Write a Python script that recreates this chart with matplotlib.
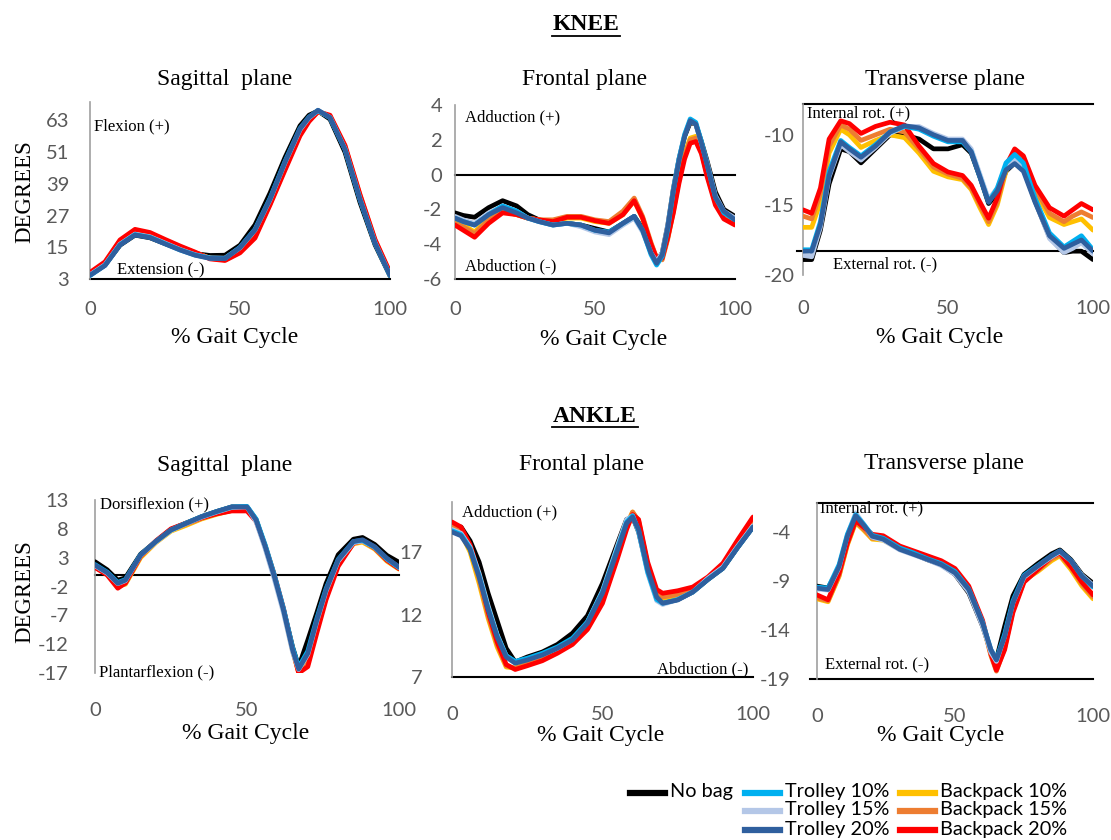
import matplotlib
matplotlib.use("Agg")
import matplotlib.pyplot as plt
from matplotlib.lines import Line2D

plt.rcParams["axes.unicode_minus"] = False

# ---------------- data ----------------
labels = ["No bag", "Trolley 10%", "Trolley 15%", "Trolley 20%",
          "Backpack 10%", "Backpack 15%", "Backpack 20%"]
colors = ["#000000", "#00B0F0", "#B4C7E7", "#2F5F9E",
          "#FFC000", "#ED7D31", "#FF0000"]

# knee, sagittal plane
ks_x = [0, 5, 10, 15, 20, 25, 30, 35, 40, 45, 50, 55, 60, 65, 70, 73, 76, 80, 85, 90, 95, 100]
ks_nobag = [4.5, 8.3, 15.8, 19.6, 18.6, 16.4, 14.3, 12.6, 11.9, 12.0, 15.8, 23.5, 35.5, 49.0, 61.0, 65.0, 66.6, 63.5, 51.0, 32.0, 16.0, 4.2]
ks_t10 = [4.3, 8.2, 16.0, 19.8, 18.8, 16.4, 14.0, 12.1, 10.9, 10.8, 15.0, 21.8, 33.5, 47.5, 60.0, 64.3, 66.8, 64.0, 52.0, 33.0, 16.5, 4.3]
ks_t15 = [4.6, 8.4, 16.2, 20.0, 19.0, 16.6, 14.2, 12.2, 11.0, 10.9, 14.8, 21.5, 33.0, 47.0, 59.5, 64.0, 66.7, 64.2, 52.3, 33.4, 16.8, 4.5]
ks_t20 = [4.4, 8.1, 15.9, 19.7, 18.7, 16.3, 14.0, 12.0, 10.8, 10.7, 14.9, 21.6, 33.2, 47.2, 59.8, 64.2, 66.9, 64.1, 52.1, 33.2, 16.6, 4.4]
ks_b10 = [5.0, 9.0, 17.0, 21.0, 19.9, 17.4, 15.0, 12.9, 10.9, 10.3, 13.6, 19.6, 31.8, 45.2, 58.2, 63.2, 66.4, 64.5, 53.0, 34.4, 17.4, 4.9]
ks_b15 = [5.2, 9.2, 17.4, 21.4, 20.2, 17.7, 15.2, 13.0, 10.8, 10.2, 13.3, 19.2, 31.4, 44.8, 57.8, 63.0, 66.4, 64.7, 53.2, 34.7, 17.7, 5.2]
ks_b20 = [5.5, 9.5, 17.8, 21.8, 20.6, 18.0, 15.5, 13.2, 10.6, 10.0, 12.9, 18.5, 31.0, 44.2, 57.2, 62.6, 66.3, 65.0, 53.6, 35.0, 18.0, 5.5]

# knee, frontal plane
kf_x = [0, 3, 7, 12, 17, 22, 26, 30, 35, 40, 45, 50, 55, 60, 64, 67, 70, 72, 74, 76, 78, 80, 82, 84, 86, 88, 90, 93, 96, 100]
kf_nobag = [-2.2, -2.35, -2.45, -1.9, -1.5, -1.8, -2.3, -2.6, -2.8, -2.8, -2.9, -3.1, -3.3, -2.8, -2.4, -3.1, -4.4, -5.0, -4.5, -2.9, -0.8, 0.9, 2.2, 3.0, 2.9, 1.9, 0.8, -1.0, -2.0, -2.4]
kf_t10 = [-2.5, -2.7, -2.9, -2.3, -1.8, -2.1, -2.5, -2.7, -2.9, -2.8, -2.9, -3.2, -3.3, -2.8, -2.4, -3.2, -4.6, -5.2, -4.7, -3.1, -0.9, 0.9, 2.3, 3.2, 3.0, 1.9, 0.6, -1.3, -2.2, -2.6]
kf_t15 = [-2.4, -2.6, -2.8, -2.2, -1.8, -2.1, -2.5, -2.7, -2.9, -2.8, -3.0, -3.3, -3.45, -2.9, -2.5, -3.3, -4.5, -5.0, -4.5, -2.9, -0.8, 0.9, 2.3, 3.1, 2.9, 1.8, 0.7, -1.2, -2.1, -2.5]
kf_t20 = [-2.5, -2.7, -2.9, -2.3, -1.9, -2.2, -2.5, -2.7, -2.9, -2.8, -2.9, -3.2, -3.35, -2.8, -2.4, -3.2, -4.5, -5.1, -4.6, -3.0, -0.9, 0.8, 2.2, 3.1, 2.9, 1.8, 0.6, -1.3, -2.1, -2.6]
kf_b10 = [-2.7, -2.9, -3.3, -2.5, -2.1, -2.3, -2.5, -2.6, -2.7, -2.5, -2.5, -2.7, -2.8, -2.3, -1.5, -2.5, -4.0, -4.8, -4.8, -3.6, -2.0, -0.2, 1.2, 2.1, 2.2, 1.4, 0.1, -1.5, -2.4, -2.7]
kf_b15 = [-2.8, -3.0, -3.4, -2.6, -2.1, -2.3, -2.5, -2.6, -2.6, -2.4, -2.4, -2.6, -2.7, -2.1, -1.35, -2.4, -3.9, -4.8, -4.9, -3.7, -2.1, -0.3, 1.1, 2.0, 2.1, 1.3, 0.0, -1.6, -2.4, -2.8]
kf_b20 = [-2.9, -3.2, -3.6, -2.8, -2.2, -2.3, -2.5, -2.6, -2.7, -2.45, -2.45, -2.65, -2.8, -2.3, -1.5, -2.5, -4.0, -4.8, -4.8, -3.6, -2.2, -0.5, 0.9, 1.8, 1.9, 1.2, -0.1, -1.75, -2.55, -2.9]

# knee, transverse plane
kt_x = [0, 3, 6, 9, 13, 16, 20, 25, 30, 35, 40, 45, 50, 55, 58, 61, 64, 67, 70, 73, 76, 80, 85, 90, 93, 96, 100]
kt_nobag = [-18.9, -18.9, -16.8, -13.5, -11.0, -11.2, -12.0, -11.0, -10.0, -10.0, -10.3, -11.0, -11.0, -10.7, -11.3, -13.0, -14.9, -14.2, -12.6, -12.0, -12.4, -14.7, -17.3, -18.4, -18.3, -18.3, -18.9]
kt_t10 = [-18.2, -18.2, -16.2, -12.6, -10.4, -10.9, -11.5, -10.7, -9.8, -9.4, -9.6, -10.1, -10.5, -10.5, -11.2, -13.0, -14.8, -13.8, -12.0, -11.4, -12.0, -14.5, -17.0, -18.0, -17.6, -17.2, -18.2]
kt_t15 = [-18.6, -18.7, -16.6, -13.0, -10.7, -11.2, -11.8, -10.9, -9.9, -9.4, -9.4, -9.9, -10.3, -10.3, -11.0, -12.8, -14.6, -13.8, -12.2, -11.7, -12.3, -14.7, -17.4, -18.4, -18.1, -17.7, -18.5]
kt_t20 = [-18.3, -18.3, -16.4, -12.9, -10.5, -11.0, -11.6, -10.8, -9.8, -9.35, -9.5, -10.0, -10.4, -10.4, -11.2, -13.0, -14.8, -14.0, -12.5, -12.05, -12.6, -14.8, -17.2, -18.1, -17.8, -17.5, -18.3]
kt_b10 = [-16.6, -16.6, -14.8, -11.3, -9.6, -10.0, -10.9, -10.4, -10.0, -10.2, -11.3, -12.6, -13.0, -13.2, -13.9, -15.2, -16.4, -15.0, -12.6, -11.5, -12.0, -14.0, -15.9, -16.4, -16.2, -16.0, -16.8]
kt_b15 = [-15.8, -16.0, -14.2, -10.8, -9.3, -9.6, -10.4, -10.0, -9.6, -9.8, -11.0, -12.3, -12.8, -13.1, -13.8, -15.0, -16.2, -14.8, -12.4, -11.2, -11.7, -13.8, -15.6, -16.2, -15.8, -15.5, -15.9]
kt_b20 = [-15.35, -15.6, -13.8, -10.3, -9.0, -9.2, -9.9, -9.4, -9.1, -9.3, -10.8, -12.05, -12.65, -12.9, -13.6, -14.8, -15.95, -14.5, -12.2, -11.0, -11.5, -13.6, -15.2, -15.8, -15.35, -14.9, -15.35]

# ankle, sagittal plane
as_x = [0, 4, 7.5, 10, 15, 20, 25, 30, 35, 40, 45, 50, 53, 56, 59, 62, 65, 67, 70, 73, 76, 80, 85, 88, 92, 96, 100]
as_nobag = [2.3, 0.9, -0.9, -0.5, 3.6, 5.8, 7.9, 9.0, 10.1, 11.0, 11.8, 11.8, 9.6, 4.8, -0.4, -6.0, -12.5, -15.9, -11.3, -6.5, -1.5, 3.5, 6.2, 6.5, 5.3, 3.4, 2.2]
as_t10 = [1.8, 0.5, -1.3, -0.8, 3.5, 5.8, 7.8, 9.0, 10.1, 11.0, 11.8, 11.9, 9.7, 5.2, 0.0, -5.8, -12.6, -16.0, -13.2, -7.5, -2.4, 2.7, 5.8, 6.0, 4.8, 2.8, 1.3]
as_t15 = [1.6, 0.3, -1.5, -1.0, 3.4, 5.7, 7.7, 8.9, 10.0, 10.9, 11.7, 11.8, 9.2, 4.5, -0.8, -6.6, -13.4, -16.4, -13.8, -8.0, -2.8, 2.4, 5.6, 5.9, 4.8, 2.8, 1.3]
as_t20 = [1.7, 0.4, -1.45, -0.9, 3.46, 5.8, 7.8, 8.95, 10.1, 11.0, 11.8, 11.8, 9.5, 4.9, -0.3, -6.1, -13.0, -16.3, -13.6, -7.8, -2.6, 2.6, 5.8, 6.1, 4.9, 2.9, 1.4]
as_b10 = [1.5, 0.2, -1.9, -1.6, 3.0, 5.6, 7.6, 8.6, 9.7, 10.5, 11.2, 11.4, 9.5, 5.0, -0.2, -6.2, -13.2, -16.9, -15.0, -9.2, -3.6, 2.0, 5.4, 5.7, 4.5, 2.4, 1.0]
as_b15 = [1.4, 0.1, -2.1, -1.5, 3.2, 5.7, 7.8, 8.8, 9.8, 10.6, 11.2, 11.3, 9.4, 5.0, -0.1, -6.0, -13.0, -16.9, -15.4, -9.5, -3.9, 1.8, 5.5, 5.9, 4.6, 2.5, 1.1]
as_b20 = [1.3, 0.0, -2.3, -1.4, 3.3, 5.9, 8.0, 9.0, 9.9, 10.6, 11.1, 11.1, 9.3, 5.0, 0.0, -5.8, -12.8, -17.0, -15.9, -10.0, -4.3, 1.5, 5.5, 6.0, 4.7, 2.6, 1.1]

# ankle, frontal plane
af_x = [0, 3, 6, 9, 12, 15, 18, 21, 25, 30, 35, 40, 45, 50, 55, 58, 60, 62, 65, 68, 70, 75, 80, 85, 90, 95, 100]
af_nobag = [18.9, 19.0, 17.9, 16.2, 13.7, 11.5, 9.3, 8.2, 8.6, 9.0, 9.6, 10.5, 11.9, 14.5, 17.7, 19.6, 19.8, 18.6, 15.5, 13.3, 12.9, 13.2, 13.8, 14.8, 15.7, 17.4, 19.0]
af_t10 = [18.7, 18.4, 17.3, 15.1, 12.5, 10.3, 8.7, 8.25, 8.5, 8.9, 9.4, 10.1, 11.4, 13.8, 17.3, 19.4, 19.9, 18.7, 15.4, 13.2, 12.9, 13.2, 13.8, 14.8, 15.7, 17.4, 19.0]
af_t15 = [18.8, 18.5, 17.4, 15.3, 12.7, 10.4, 8.7, 8.2, 8.4, 8.8, 9.3, 10.0, 11.4, 13.9, 17.5, 19.6, 19.9, 18.6, 15.3, 13.1, 12.8, 13.2, 13.8, 14.9, 15.8, 17.5, 19.1]
af_t20 = [18.6, 18.3, 17.2, 15.0, 12.4, 10.2, 8.6, 8.1, 8.36, 8.76, 9.3, 9.96, 11.3, 13.7, 17.16, 19.3, 19.8, 18.8, 15.6, 13.4, 12.9, 13.16, 13.8, 14.8, 15.7, 17.4, 19.0]
af_b10 = [18.8, 18.5, 17.0, 14.5, 11.7, 9.4, 7.8, 7.7, 8.1, 8.5, 9.1, 9.8, 11.0, 13.2, 16.8, 19.2, 20.2, 19.4, 15.9, 13.5, 13.3, 13.5, 13.9, 14.9, 15.9, 17.7, 19.4]
af_b15 = [19.0, 18.8, 17.3, 14.8, 11.9, 9.6, 7.9, 7.7, 8.0, 8.4, 9.0, 9.7, 10.9, 13.1, 16.7, 19.1, 20.2, 19.5, 16.0, 13.7, 13.4, 13.6, 14.0, 14.9, 15.9, 17.8, 19.5]
af_b20 = [19.4, 19.0, 17.6, 15.2, 12.2, 9.8, 8.0, 7.6, 7.9, 8.3, 8.9, 9.6, 10.8, 12.9, 16.5, 18.8, 20.0, 19.6, 16.2, 14.0, 13.7, 13.9, 14.2, 15.0, 16.1, 18.0, 19.8]

# ankle, transverse plane
at_x = [0, 4, 8, 11, 14, 17, 20, 24, 30, 35, 40, 45, 50, 55, 60, 63, 65, 68, 71, 75, 80, 85, 88, 92, 96, 100]
at_nobag = [-9.5, -9.7, -7.6, -4.6, -2.5, -3.4, -4.5, -4.7, -5.7, -6.2, -6.8, -7.3, -8.3, -10.2, -13.6, -16.2, -17.0, -13.6, -10.5, -8.3, -7.2, -6.2, -5.8, -6.8, -8.3, -9.2]
at_t10 = [-9.6, -9.7, -7.3, -4.2, -2.2, -3.2, -4.3, -4.6, -5.6, -6.1, -6.7, -7.2, -8.0, -9.8, -13.2, -16.0, -17.0, -14.4, -11.0, -8.4, -7.4, -6.4, -5.9, -6.9, -8.5, -9.6]
at_t15 = [-9.8, -9.9, -7.6, -4.3, -2.0, -3.2, -4.5, -4.8, -5.8, -6.3, -6.8, -7.4, -8.3, -10.1, -13.6, -16.3, -17.2, -14.6, -11.2, -8.6, -7.5, -6.5, -6.0, -6.9, -8.4, -9.4]
at_t20 = [-9.7, -9.85, -7.5, -4.4, -2.3, -3.3, -4.4, -4.7, -5.74, -6.25, -6.77, -7.3, -8.14, -9.85, -13.3, -16.0, -17.05, -14.65, -11.2, -8.5, -7.45, -6.4, -5.9, -6.9, -8.5, -9.5]
at_b10 = [-10.8, -11.1, -8.5, -5.3, -3.0, -3.8, -4.7, -4.8, -5.7, -6.2, -6.7, -7.2, -8.0, -9.8, -13.3, -16.5, -18.0, -15.5, -11.8, -8.9, -8.0, -6.9, -6.4, -7.8, -9.5, -10.8]
at_b15 = [-10.7, -11.0, -8.4, -5.2, -2.9, -3.7, -4.6, -4.7, -5.6, -6.1, -6.6, -7.1, -7.9, -9.7, -13.2, -16.6, -18.2, -15.8, -12.0, -9.0, -7.9, -6.7, -6.3, -7.6, -9.3, -10.6]
at_b20 = [-10.4, -10.9, -8.2, -5.1, -2.8, -3.5, -4.2, -4.35, -5.4, -5.9, -6.4, -6.9, -7.7, -9.5, -13.0, -16.4, -18.1, -16.0, -12.2, -9.1, -7.8, -6.5, -6.1, -7.5, -9.1, -10.4]

# ---------------- figure ----------------
W, H = 1111, 840
fig = plt.figure(figsize=(W / 100, H / 100), dpi=100)
SERIF = "Liberation Serif"
SANS = "Lato"
TICK_GRAY = "#595959"

def px_axes(l, t, r, b):
    return fig.add_axes([l / W, 1 - b / H, (r - l) / W, (b - t) / H])

def ftext(x, y, s, **kw):
    fig.text(x / W, 1 - y / H, s, **kw)

# draw order: black, backpacks, then trolleys on top
order = [0, 4, 5, 6, 2, 1, 3]

def panel(box, x, series, ylim, yticks, ypad, xpad):
    ax = px_axes(*box)
    for i in order:
        ax.plot(x, series[i], color=colors[i], lw=3.4, solid_capstyle="round",
                solid_joinstyle="round", zorder=3)
    ax.set_xlim(0, 100)
    ax.set_ylim(*ylim)
    ax.set_xticks([0, 50, 100])
    ax.set_yticks(yticks)
    ax.tick_params(length=0, labelsize=14.5, labelcolor=TICK_GRAY)
    ax.tick_params(axis="y", pad=ypad)
    ax.tick_params(axis="x", pad=xpad)
    for lab in ax.get_xticklabels() + ax.get_yticklabels():
        lab.set_fontfamily(SANS)
    for s in ["top", "right", "bottom"]:
        ax.spines[s].set_visible(False)
    ax.spines["left"].set_color("#a0a0a0")
    ax.spines["left"].set_linewidth(1.2)
    ax.patch.set_alpha(0)
    return ax

def hline(ax, y, xmin=0.0):
    ax.axhline(y, xmin=xmin, xmax=1.0, color="black", lw=1.5, zorder=2, clip_on=False)

# knee
ax = panel((90, 102, 390, 279), ks_x,
           [ks_nobag, ks_t10, ks_t15, ks_t20, ks_b10, ks_b15, ks_b20],
           (3, 70), [3, 15, 27, 39, 51, 63], 15, 16)
hline(ax, 3)
ax = panel((455, 105, 735, 279), kf_x,
           [kf_nobag, kf_t10, kf_t15, kf_t20, kf_b10, kf_b15, kf_b20],
           (-6, 4), [-6, -4, -2, 0, 2, 4], 9, 16)
hline(ax, -6)
hline(ax, 0)
ax = panel((803, 104, 1093, 275), kt_x,
           [kt_nobag, kt_t10, kt_t15, kt_t20, kt_b10, kt_b15, kt_b20],
           (-20, -7.8), [-20, -15, -10], 6, 18)
hline(ax, -7.8)
hline(ax, -18.3, xmin=-0.02)

# ankle
ax = panel((95, 500, 399, 673), as_x,
           [as_nobag, as_t10, as_t15, as_t20, as_b10, as_b15, as_b20],
           (-17, 13), [-17, -12, -7, -2, 3, 8, 13], 19, 21)
hline(ax, 0)
ax = panel((452, 502, 753, 677), af_x,
           [af_nobag, af_t10, af_t15, af_t20, af_b10, af_b15, af_b20],
           (7, 21), [7, 12, 17], 21, 21)
hline(ax, 7)
ax = panel((817, 503, 1093, 679), at_x,
           [at_nobag, at_t10, at_t15, at_t20, at_b10, at_b15, at_b20],
           (-19, -1), [-19, -14, -9, -4], 19, 21)
hline(ax, -1)
hline(ax, -19, xmin=-0.025)

# headings
for txt, cx, cy, half in [("KNEE", 586, 25, 34), ("ANKLE", 595, 416, 43)]:
    ftext(cx, cy, txt, family=SERIF, fontsize=17, fontweight="bold", ha="center", va="center")
    fig.add_artist(Line2D([(cx - half) / W, (cx + half) / W], [1 - (cy + 11) / H] * 2,
                          color="black", lw=1.3))

for cx, cy, s in [(225, 80, "Sagittal  plane"), (585, 79, "Frontal plane"), (945, 79, "Transverse plane"),
                  (225, 466, "Sagittal  plane"), (582, 464, "Frontal plane"), (944, 463, "Transverse plane")]:
    ftext(cx, cy, s, family=SERIF, fontsize=17, ha="center", va="center")

for cx, cy in [(235, 338), (604, 339), (940, 337), (246, 734), (601, 735), (941, 735)]:
    ftext(cx, cy, "% Gait Cycle", family=SERIF, fontsize=17, ha="center", va="center")

for cy in [192, 592]:
    ftext(25, cy, "DEGREES", family=SERIF, fontsize=16.5, rotation=90, ha="center", va="center")

# direction notes inside the panels
for x0, y0, s in [(94, 126, "Flexion (+)"), (117, 270, "Extension (-)"),
                  (465, 117, "Adduction (+)"), (465, 266, "Abduction (-)"),
                  (807, 113, "Internal rot. (+)"), (833, 264, "External rot. (-)"),
                  (100, 504, "Dorsiflexion (+)"), (99, 672, "Plantarflexion (-)"),
                  (462, 512, "Adduction (+)"), (657, 669, "Abduction (-)"),
                  (820, 508, "Internal rot. (+)"), (825, 664, "External rot. (-)")]:
    ftext(x0, y0, s, family=SERIF, fontsize=12, ha="left", va="center", zorder=5)

# legend
legend_slots = [(0, 630, 793), (1, 745, 793), (2, 745, 811), (3, 745, 830),
                (4, 900, 793), (5, 900, 811), (6, 900, 830)]
for i, lx, ly in legend_slots:
    fig.add_artist(Line2D([lx / W, (lx + 35) / W], [1 - ly / H] * 2, color=colors[i], lw=4.5))
    ftext(lx + 40, ly - 1, labels[i], family=SANS, fontsize=14.3, ha="left", va="center")

fig.savefig("out.png", dpi=100)
